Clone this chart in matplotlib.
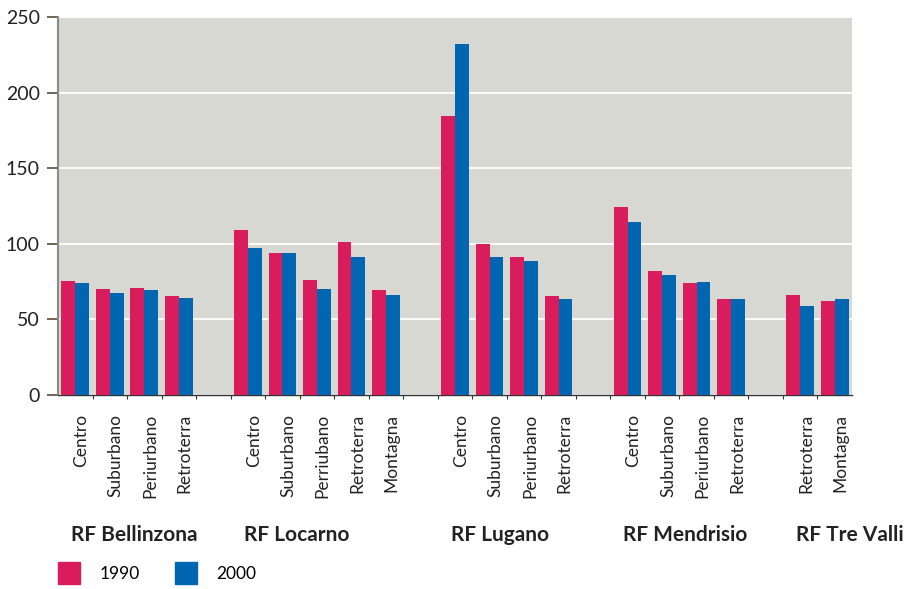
import numpy as np
import matplotlib.pyplot as plt
from matplotlib.patches import Patch

plt.rcParams['font.family'] = ['Lato', 'DejaVu Sans']

# data
regions = ['RF Bellinzona', 'RF Locarno', 'RF Lugano', 'RF Mendrisio', 'RF Tre Valli']
categories = [
    ['Centro', 'Suburbano', 'Periurbano', 'Retroterra'],
    ['Centro', 'Suburbano', 'Perriubano', 'Retroterra', 'Montagna'],
    ['Centro', 'Suburbano', 'Periurbano', 'Retroterra'],
    ['Centro', 'Suburbano', 'Periurbano', 'Retroterra'],
    ['Retroterra', 'Montagna'],
]
values_1990 = [
    [75.3, 69.8, 70.5, 65.2],
    [108.8, 93.6, 76.0, 101.1, 69.4],
    [184.6, 99.8, 91.2, 65.2],
    [124.4, 81.7, 74.0, 63.4],
    [66.1, 61.9],
]
values_2000 = [
    [73.8, 67.2, 69.4, 64.1],
    [96.9, 93.6, 69.8, 91.6, 66.1],
    [231.9, 91.2, 88.3, 63.7],
    [114.5, 79.1, 74.7, 63.7],
    [59.0, 63.4],
]
series_labels = ['1990', '2000']

c1990 = '#d91d5c'
c2000 = '#0066b2'

# slot positions: one empty slot between regions
positions, labels, v90, v00, group_start = [], [], [], [], []
pos = 0
for cats, a, b in zip(categories, values_1990, values_2000):
    group_start.append(pos)
    for c, x1, x2 in zip(cats, a, b):
        positions.append(pos)
        labels.append(c)
        v90.append(x1)
        v00.append(x2)
        pos += 1
    pos += 1
positions = np.array(positions)
n_slots = pos - 1

fig = plt.figure(figsize=(9.06, 5.89), dpi=100)
ax = fig.add_axes([58 / 906, 194 / 589, 794 / 906, 378 / 589])
ax.set_facecolor('#d8d8d2')

w = 0.4
ax.bar(positions - w / 2, v90, width=w, color=c1990, zorder=3)
ax.bar(positions + w / 2, v00, width=w, color=c2000, zorder=3)

ax.set_xlim(-0.5, n_slots - 0.5)
ax.set_ylim(0, 250)
ax.set_yticks([0, 50, 100, 150, 200, 250])
ax.yaxis.grid(True, color='white', lw=1.3, zorder=1)
ax.tick_params(axis='y', labelsize=14, length=8, width=1.2, color='#5a4a35',
               pad=5, labelcolor='#222222')

ax.set_xticks(np.arange(0.5, n_slots - 0.5, 1.0))
ax.set_xticklabels([])
ax.tick_params(axis='x', length=3, color='#333333', direction='out')

for s in ['top', 'right']:
    ax.spines[s].set_visible(False)
ax.spines['left'].set_color('#8a8a8a')
ax.spines['left'].set_linewidth(1.5)
ax.spines['bottom'].set_color('#333333')
ax.spines['bottom'].set_linewidth(1.0)

# category labels, rotated
trans = ax.get_xaxis_transform()
for x, lab in zip(positions, labels):
    ax.text(x + 0.17, -0.05, lab, rotation=90, ha='center', va='top', fontsize=12.5,
            color='#222222', transform=trans)

# region labels
for gs, name in zip(group_start, regions):
    ax.text(gs - 0.12, -0.37, name, ha='left', va='center', fontsize=15,
            fontweight='bold', color='#222222', transform=trans)

handles = [Patch(color=c1990), Patch(color=c2000)]
fig.legend(handles, series_labels, loc='lower left', bbox_to_anchor=(0.047, -0.018),
           ncol=2, frameon=False, fontsize=12.5, handlelength=1.25, handleheight=1.6,
           handletextpad=1.15, columnspacing=2.0)

fig.savefig('out.png', dpi=100)
